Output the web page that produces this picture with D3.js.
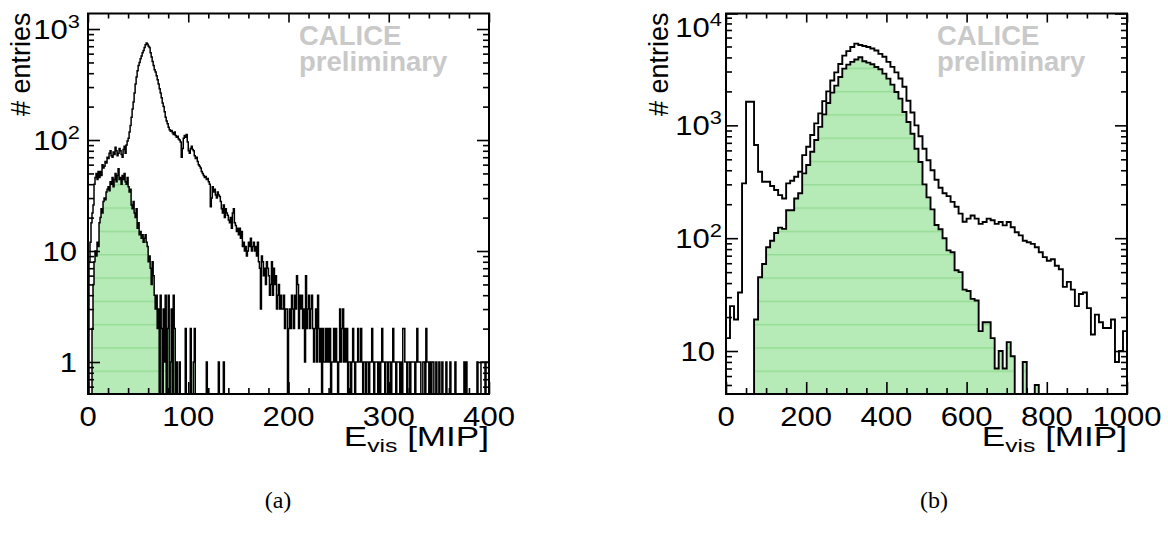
<!DOCTYPE html>
<html>
<head>
<meta charset="utf-8">
<script src="https://cdn.jsdelivr.net/npm/d3@7"></script>
<style>
  html, body { margin: 0; padding: 0; background: #fff; }
  svg { display: block; }
  text { font-family: "Liberation Sans", Arial, Helvetica, sans-serif; fill: #000; }
</style>
</head>
<body>
<svg id="chart" width="1168" height="536"></svg>
<script>
// ---------------- data ----------------
// (a) visible energy, 1 MIP bins from 0 to 400 MIP
const binWidthA = 1;
const allEventsA = [
  0,8,12,18,22,26,40,46,50,44,52,46,52,48,60,56,58,64,62,70,
  68,76,80,72,70,78,74,86,80,72,76,84,80,74,70,82,88,76,90,98,
  104,118,135,160,190,220,265,320,370,420,470,500,540,570,610,640,680,720,750,730,
  700,680,610,560,510,470,430,410,380,350,320,290,265,240,215,200,180,160,148,140,
  130,124,120,122,116,112,118,110,106,108,102,100,96,70,84,104,110,106,112,96,
  80,76,84,88,82,80,72,68,70,64,60,58,56,52,50,48,46,47,44,45,
  42,40,25,30,38,34,36,32,30,34,32,31,28,24,22,26,20,24,22,21,
  19,18,20,16,22,24,18,17,15,16,14,16,13,15,11,12,10,11,9,10,
  12,11,13,10,11,12,10,11,9,12,8,7,3,9,8,6,7,5,8,7,
  6,4,5,8,4,7,5,6,3,4,5,3,4,3,3,4,2,3,3,0,
  2,3,2,4,3,2,4,3,6,5,2,4,3,4,2,3,1,6,2,3,
  4,2,3,4,2,1,2,3,1,4,2,1,2,0,2,1,1,2,1,2,
  1,2,0,1,1,2,1,2,1,0,1,3,1,2,3,1,2,1,2,0,
  1,1,0,1,2,1,0,1,1,2,1,1,2,1,0,1,1,0,1,1,
  0,1,1,2,1,0,1,1,1,0,1,0,1,2,1,1,0,1,1,0,
  1,1,0,1,2,1,1,0,1,1,1,0,1,0,2,2,1,1,0,1,
  1,0,1,1,1,1,0,1,2,1,1,1,0,0,1,1,0,2,1,1,
  0,1,0,1,1,0,0,1,0,0,1,0,0,1,0,0,0,1,0,0,
  0,1,0,0,0,0,1,0,0,0,0,0,0,0,0,1,0,1,0,0,
  0,0,0,0,0,0,0,0,1,0,0,0,1,1,1,1,0,1,1,1
];
const selectedA = [
  0,0,0,0,2,5,8,10,9,12,11,18,20,24,22,28,30,29,34,36,
  38,35,42,40,46,38,44,50,42,48,55,44,46,40,48,44,50,42,40,46,
  38,34,36,26,24,28,22,20,24,16,18,14,15,13,14,12,13,14,12,11,
  8,9,7,5,8,6,4,3,4,2,3,0,4,2,0,3,1,4,0,2,
  4,0,1,3,0,4,2,0,1,0,0,1,0,0,0,0,0,2,0,0,
  0,0,2,0,0,1,2,0,0,0,0,0,0,0,0,0,0,0,1,0,
  0,0,0,0,0,0,0,0,0,0,1,0,0,0,0,1,0,0,0,0
];
const xTicksA = [0, 100, 200, 300, 400];
const yTicksA = [1, 10, 100, 1000];

// (b) visible energy, 10 MIP bins from 0 to 1000 MIP
const binWidthB = 10;
const allEventsB = [
  13,25,19,33,306,1620,1620,669,388,316,
  316,290,267,241,225,306,323,350,388,545,
  646,820,1041,1277,1640,2000,2500,2950,3500,4150,
  4550,4950,5300,5150,5050,4950,4800,4600,4300,4050,
  3650,3300,2950,2600,2200,1650,1300,1000,800,620,
  490,400,330,280,250,236,210,190,165,140,
  149,159,149,134,139,149,144,134,139,130,
  139,125,113,106,95,92,89,83,75,68,
  63,65,57,53,37,41,35,25,32,33,
  24,14,21,18,16,16,19,8,10,15
];
const selectedB = [
  0,0,0,0,0,0,0,19,45,59,
  83,95,111,124,121,177,177,225,250,375,
  445,584,741,970,1250,1580,1950,2250,2685,3185,
  3455,3650,3830,4010,3700,3600,3480,3290,3140,2875,
  2595,2295,1975,1725,1313,1070,843,620,473,300,
  230,180,131,120,100,78,75,52,50,35,
  34,29,28,15,18,18,13,7,10,7,
  12,9,0,0,8,0,0,5,0,0,
  0,0,0,0,0,0,0,0,0,0,
  0,0,0,0,0,0,0,0,0,0
];
const xTicksB = [0, 200, 400, 600, 800, 1000];
const yTicksB = [10, 100, 1000, 10000];

const captions = ["(a)", "(b)"];
const watermark = ["CALICE", "preliminary"];

// ---------------- layout ----------------
const panels = [
  { left: 88, right: 489, top: 13.5, bottom: 394,
    xDomain: [0, 400], yDomain: [0.515, 1380],
    binWidth: binWidthA, all: allEventsA, sel: selectedA,
    xTicks: xTicksA, xMinor: 20, yTicks: yTicksA,
    plainGap: 11, powGap: 8,
    caption: captions[0], captionX: 278, lineWidth: 1.5 },
  { left: 726, right: 1127, top: 13.5, bottom: 394,
    xDomain: [0, 1000], yDomain: [4.16, 9800],
    binWidth: binWidthB, all: allEventsB, sel: selectedB,
    xTicks: xTicksB, xMinor: 50, yTicks: yTicksB,
    plainGap: 11, powGap: 4,
    caption: captions[1], captionX: 934, lineWidth: 1.9 }
];

const TICK_FONT = 27;     // tick label size
const WIDE = 1.15;        // horizontal widening of the sans-serif labels

const svg = d3.select("#chart");
const defs = svg.append("defs");

// light green fill with faint horizontal banding
const pat = defs.append("pattern")
  .attr("id", "greenFill")
  .attr("patternUnits", "userSpaceOnUse")
  .attr("x", 0).attr("y", 21)
  .attr("width", 12).attr("height", 23.3);
pat.append("rect").attr("width", 12).attr("height", 23.3).attr("fill", "#b6eab6");
pat.append("rect").attr("width", 12).attr("height", 1.4).attr("fill", "#94dc94");

function stepPath(values, binWidth, x, y, yBase, closed) {
  const p = d3.path();
  p.moveTo(x(0), yBase);
  values.forEach((v, i) => {
    const yy = v > 0 ? y(v) : yBase;
    p.lineTo(x(i * binWidth), yy);
    p.lineTo(x((i + 1) * binWidth), yy);
  });
  p.lineTo(x(values.length * binWidth), yBase);
  if (closed) p.closePath();
  return p.toString();
}

function logMinor(domain) {
  const out = [];
  const d0 = Math.floor(Math.log10(domain[0]));
  const d1 = Math.ceil(Math.log10(domain[1]));
  for (let d = d0; d <= d1; d++) {
    for (let k = 2; k <= 9; k++) {
      const v = k * Math.pow(10, d);
      if (v > domain[0] && v < domain[1]) out.push(v);
    }
  }
  return out;
}

// a text placed at (ax, ay) and widened horizontally about its anchor
function wideText(parent, ax, ay, anchor, size, sx) {
  return parent.append("g")
    .attr("transform", `translate(${ax},${ay}) scale(${sx},1)`)
    .append("text")
    .attr("x", 0).attr("y", 0)
    .attr("text-anchor", anchor)
    .style("font-size", size + "px");
}

panels.forEach((P, idx) => {
  const x = d3.scaleLinear().domain(P.xDomain).range([P.left, P.right]);
  const y = d3.scaleLog().domain(P.yDomain).range([P.bottom, P.top]).clamp(true);
  const g = svg.append("g");

  const clipId = "clip" + idx;
  defs.append("clipPath").attr("id", clipId)
    .append("rect")
    .attr("x", P.left).attr("y", P.top)
    .attr("width", P.right - P.left).attr("height", P.bottom - P.top);

  const plot = g.append("g").attr("clip-path", `url(#${clipId})`);

  // selected events: filled histogram with outline
  plot.append("path")
    .attr("d", stepPath(P.sel, P.binWidth, x, y, P.bottom + 2, true))
    .attr("fill", "url(#greenFill)")
    .attr("stroke", "none");
  plot.append("path")
    .attr("d", stepPath(P.sel, P.binWidth, x, y, P.bottom + 2, false))
    .attr("fill", "none")
    .attr("stroke", "#000")
    .attr("stroke-width", P.lineWidth);

  // all events: outline histogram
  plot.append("path")
    .attr("d", stepPath(P.all, P.binWidth, x, y, P.bottom + 2, false))
    .attr("fill", "none")
    .attr("stroke", "#000")
    .attr("stroke-width", P.lineWidth);

  // watermark
  const wm = g.append("g").style("font-weight", "bold").style("font-size", "27.5px");
  wm.append("text").attr("x", P.left + 211).attr("y", 45)
    .style("fill", "#c9c9c9").text(watermark[0]);
  wm.append("text").attr("x", P.left + 211).attr("y", 71)
    .style("fill", "#c9c9c9").text(watermark[1]);

  // ticks on all four sides, pointing inward
  const xMinorVals = d3.range(P.xDomain[0], P.xDomain[1] + 1e-9, P.xMinor)
    .filter(v => !P.xTicks.includes(v));
  const yMinorVals = logMinor(P.yDomain);
  const yMajorVals = P.yTicks.filter(v => v >= P.yDomain[0] && v <= P.yDomain[1] * 1.05);

  const addAxis = (gen, tx, ty) => {
    const a = g.append("g").attr("transform", `translate(${tx},${ty})`).call(gen);
    a.select(".domain").remove();
    a.selectAll("line").attr("stroke", "#000").attr("stroke-width", 1.6);
    a.selectAll("text").remove();
  };
  addAxis(d3.axisBottom(x).tickValues(P.xTicks).tickSize(-12).tickFormat(""), 0, P.bottom);
  addAxis(d3.axisBottom(x).tickValues(xMinorVals).tickSize(-6).tickFormat(""), 0, P.bottom);
  addAxis(d3.axisTop(x).tickValues(P.xTicks).tickSize(-9).tickFormat(""), 0, P.top);
  addAxis(d3.axisTop(x).tickValues(xMinorVals).tickSize(-5).tickFormat(""), 0, P.top);
  addAxis(d3.axisLeft(y).tickValues(yMajorVals).tickSize(-12).tickFormat(""), P.left, 0);
  addAxis(d3.axisLeft(y).tickValues(yMinorVals).tickSize(-6).tickFormat(""), P.left, 0);
  addAxis(d3.axisRight(y).tickValues(yMajorVals).tickSize(-12).tickFormat(""), P.right, 0);
  addAxis(d3.axisRight(y).tickValues(yMinorVals).tickSize(-6).tickFormat(""), P.right, 0);

  // frame
  g.append("rect")
    .attr("x", P.left).attr("y", P.top)
    .attr("width", P.right - P.left).attr("height", P.bottom - P.top)
    .attr("fill", "none").attr("stroke", "#000").attr("stroke-width", 2);

  // x tick labels
  P.xTicks.forEach(v => {
    wideText(g, x(v), P.bottom + 32, "middle", TICK_FONT, WIDE).text(v);
  });

  // y tick labels: plain numbers for 1 and 10, powers of ten above
  yMajorVals.forEach(v => {
    const e = Math.round(Math.log10(v));
    const yy = Math.max(y(v) + 10, P.top + 23);
    if (e <= 1) {
      wideText(g, P.left - P.plainGap, yy, "end", TICK_FONT, WIDE).text(v);
    } else {
      const t = wideText(g, P.left - P.powGap, yy, "end", TICK_FONT, WIDE);
      t.append("tspan").text("10");
      t.append("tspan").attr("dy", -11).style("font-size", "19px").text(String(e));
    }
  });

  // axis titles
  g.append("text")
    .attr("transform", `translate(${P.left - 58},${P.top - 1}) rotate(-90)`)
    .attr("text-anchor", "end")
    .style("font-size", "27px")
    .text("# entries");

  const xt = wideText(g, P.right, P.bottom + 52, "end", 27, 1.3);
  xt.append("tspan").text("E");
  xt.append("tspan").attr("dy", 6).style("font-size", "19px").text("vis");
  xt.append("tspan").attr("dy", -6).text(" [MIP]");

  // caption
  g.append("text")
    .attr("x", P.captionX).attr("y", 508)
    .attr("text-anchor", "middle")
    .style("font-family", "'Liberation Serif', 'DejaVu Serif', serif")
    .style("font-size", "24px")
    .text(P.caption);
});
</script>
</body>
</html>
